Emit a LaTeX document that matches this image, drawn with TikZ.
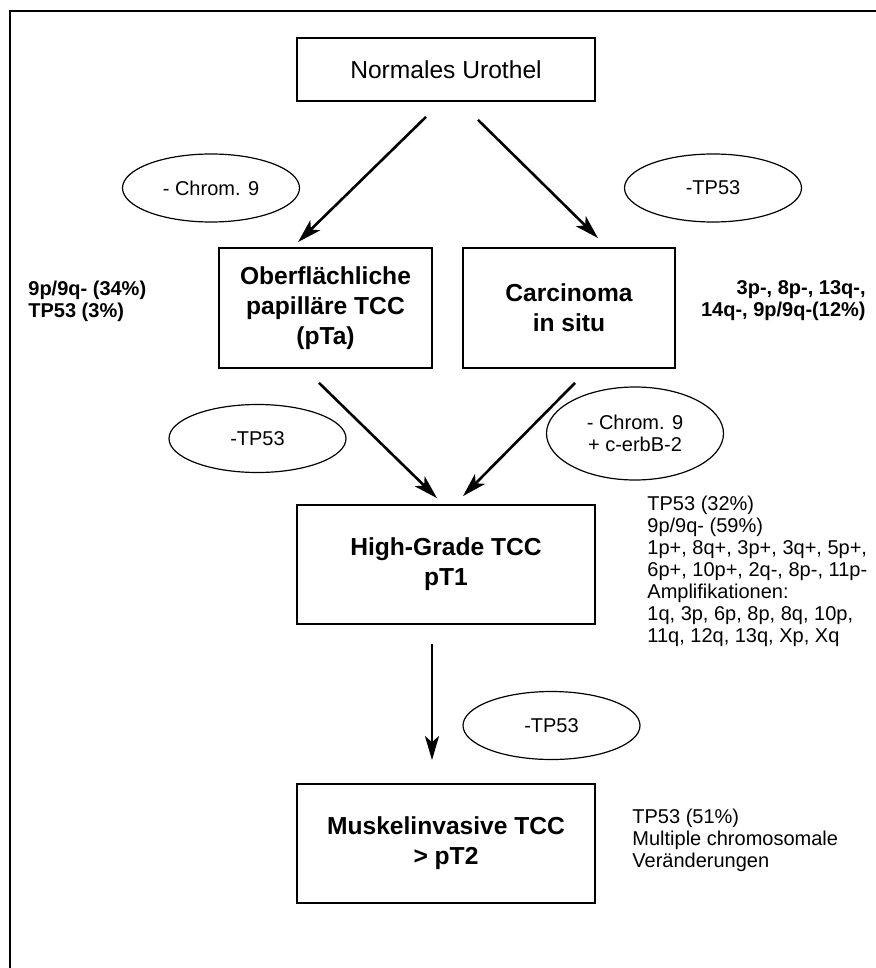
\documentclass[tikz,border=0pt]{standalone}
\usepackage{fontspec}
\setmainfont{Liberation Sans}
\usetikzlibrary{calc,arrows.meta,shapes.geometric}

\tikzset{
  stage/.style = {draw, line width=0.9pt, align=center, inner sep=0pt,
    minimum width=149pt, minimum height=59.5pt,
    font=\bfseries\fontsize{12.3}{15}\selectfont},
  mutation/.style = {draw, ellipse, line width=0.6pt, align=center, inner sep=0pt,
    minimum width=88.5pt, minimum height=34pt,
    font=\fontsize{10}{11}\selectfont},
  finding/.style = {inner sep=0pt, font=\fontsize{10}{11}\selectfont},
  progress/.style = {-{Stealth[length=12pt,width=7pt,inset=3pt]}, line width=1.3pt},
}

\begin{document}
\begin{tikzpicture}[x=0.5pt,y=-0.5pt]
  \useasboundingbox (0,0) rectangle (876,968);
  \draw[line width=1pt] (10,968) -- (10,11.5) -- (876,11.5);

  % stages
  \path
    (446,69.5)  node[stage, minimum height=31.5pt,
                     font=\fontsize{12.3}{15}\selectfont] (norm) {Normales Urothel}
    (325.5,308) node[stage, minimum width=106.5pt, minimum height=60pt] (pta)
                     {Oberflächliche\\papilläre TCC\\(pTa)}
    (569,308)   node[stage, minimum width=106pt, minimum height=60pt] (cis)
                     {Carcinoma\\in situ}
    (446,564.5) node[stage] (pt1) {High-Grade TCC\\pT1}
    (446,843.5) node[stage] (pt2) {Muskelinvasive TCC\\> pT2}
  ;

  % mutations
  \path
    (211,188)     node[mutation] (chromA) {- Chrom. 9}
    (713,188)     node[mutation] (tpA) {-TP53}
    (257.5,438.5) node[mutation] (tpB) {-TP53}
    (635,433.5)   node[mutation, minimum height=46.5pt] (chromB) {- Chrom. 9\\+ c-erbB-2}
    (551.5,725.5) node[mutation] (tpC) {-TP53}
  ;

  % findings
  \path
    (28,301)  node[finding, anchor=west, align=left, font=\bfseries\fontsize{10}{11}\selectfont]
              (fpta) {9p/9q- (34\%)\\TP53 (3\%)}
    (866,301) node[finding, anchor=east, align=right, font=\bfseries\fontsize{10}{11}\selectfont]
              (fcis) {3p-, 8p-, 13q-,\\14q-, 9p/9q-(12\%)}
    (647,571) node[finding, anchor=west, align=left] (fpt1)
              {TP53 (32\%)\\9p/9q- (59\%)\\1p+, 8q+, 3p+, 3q+, 5p+,\\6p+, 10p+, 2q-, 8p-, 11p-\\Amplifikationen:\\1q, 3p, 6p, 8p, 8q, 10p,\\11q, 12q, 13q, Xp, Xq}
    (632,840) node[finding, anchor=west, align=left] (fpt2)
              {TP53 (51\%)\\Multiple chromosomale\\Veränderungen}
  ;

  \draw[progress] ($(norm.south)+(-20,15)$) -- ($(pta.north)+(-27.5,-5)$);
  \draw[progress] ($(norm.south)+(32,18)$) -- ($(cis.north)+(29,-9)$);
  \draw[progress] ($(pta.south)+(-6.5,14)$) -- ($(pt1.north)+(-9,-6)$);
  \draw[progress] ($(cis.south)+(6,14)$) -- ($(pt1.north)+(17,-8)$);
  \draw[progress] ($(pt1.south)+(-14,19)$) -- ($(pt2.north)+(-14,-23)$);
\end{tikzpicture}
\end{document}
